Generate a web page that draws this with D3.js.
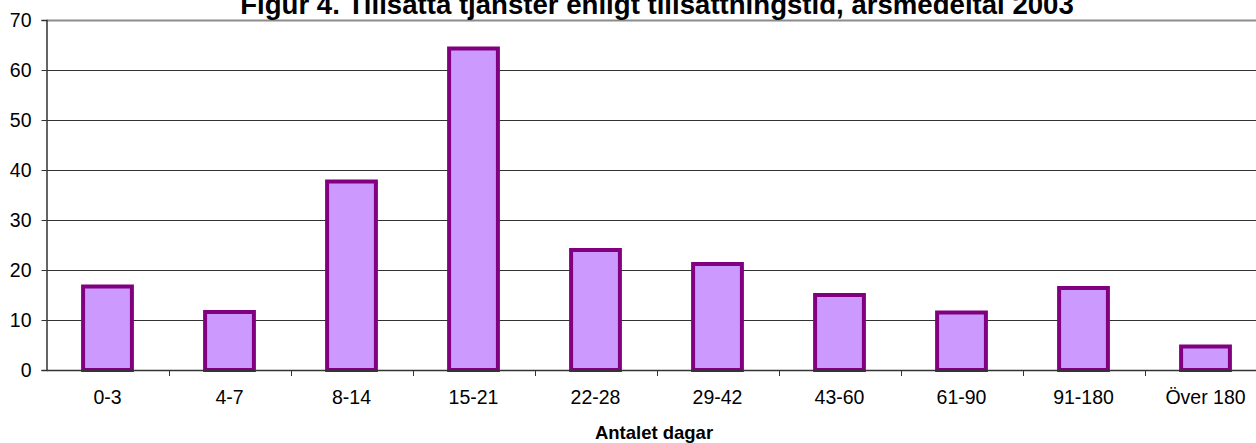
<!DOCTYPE html>
<html><head><meta charset="utf-8">
<script src="https://cdn.jsdelivr.net/npm/d3@7/dist/d3.min.js"></script>
<style>body{margin:0;background:#fff;overflow:hidden}svg{display:block}</style>
</head><body>
<script>
const categories = ["0-3","4-7","8-14","15-21","22-28","29-42","43-60","61-90","91-180","Över 180"];
const values = [16.7, 11.6, 37.7, 64.3, 24.0, 21.2, 15.0, 11.5, 16.4, 4.7];
const yTicks = [0,10,20,30,40,50,60,70];
const title = "Figur 4. Tillsatta tjänster enligt tillsättningstid, årsmedeltal 2003";
const xTitle = "Antalet dagar";

const W = 1256, H = 443;
const FONT = "Liberation Sans, Arial, sans-serif";
const svg = d3.select("body").append("svg").attr("width", W).attr("height", H);
const pLeft = 46.5, pRight = 1266.5, pTop = 20, pBottom = 370;
const x = d3.scaleBand().domain(categories).range([pLeft, pRight]).paddingInner(0.6).paddingOuter(0.3);
const xb = d3.scaleBand().domain(categories).range([pLeft, pRight]);
const y = d3.scaleLinear().domain([0,70]).range([pBottom, pTop]);

// gridlines
svg.append("g").selectAll("line").data(yTicks.filter(d => d > 0)).join("line")
  .attr("x1", pLeft).attr("x2", pRight)
  .attr("y1", d => Math.round(y(d)) + 0.5).attr("y2", d => Math.round(y(d)) + 0.5)
  .attr("stroke", d => d === 70 ? "#8c8c8c" : "#333")
  .attr("stroke-width", d => d === 70 ? 2 : 1);

// bars
svg.append("g").selectAll("rect").data(values).join("rect")
  .attr("x", (d,i) => x(categories[i]))
  .attr("width", x.bandwidth())
  .attr("y", d => y(d))
  .attr("height", d => pBottom - y(d))
  .attr("fill", "#CC99FF").attr("stroke", "#800080").attr("stroke-width", 4);

// y axis
const ya = svg.append("g").attr("transform", `translate(${pLeft},0)`)
  .call(d3.axisLeft(y).tickValues(yTicks).tickSize(5).tickPadding(10));
ya.attr("font-family", FONT).attr("font-size", 19.5);
ya.select(".domain").attr("stroke", "#333").attr("stroke-width", 1.5);
ya.selectAll(".tick line").attr("stroke", "#333");
ya.selectAll("text").attr("fill", "#000");

// x axis
const xa = svg.append("g").attr("transform", `translate(0,${pBottom})`)
  .call(d3.axisBottom(xb).tickSize(0).tickPadding(20));
xa.attr("font-family", FONT).attr("font-size", 19.5);
xa.select(".domain").attr("stroke", "#333").attr("stroke-width", 1.5);
xa.selectAll("text").attr("fill", "#000");
svg.append("g").selectAll("line").data(categories.slice(1)).join("line")
  .attr("x1", d => Math.round(xb(d)) + 0.5).attr("x2", d => Math.round(xb(d)) + 0.5)
  .attr("y1", pBottom).attr("y2", pBottom + 6).attr("stroke", "#333");

// titles
svg.append("text").attr("x", 657).attr("y", 14).attr("text-anchor", "middle")
  .attr("font-family", FONT).attr("font-size", 27.6).attr("font-weight", "bold").text(title);
svg.append("text").attr("x", 654).attr("y", 439).attr("text-anchor", "middle")
  .attr("font-family", FONT).attr("font-size", 18.5).attr("font-weight", "bold").text(xTitle);
</script>
</body></html>
